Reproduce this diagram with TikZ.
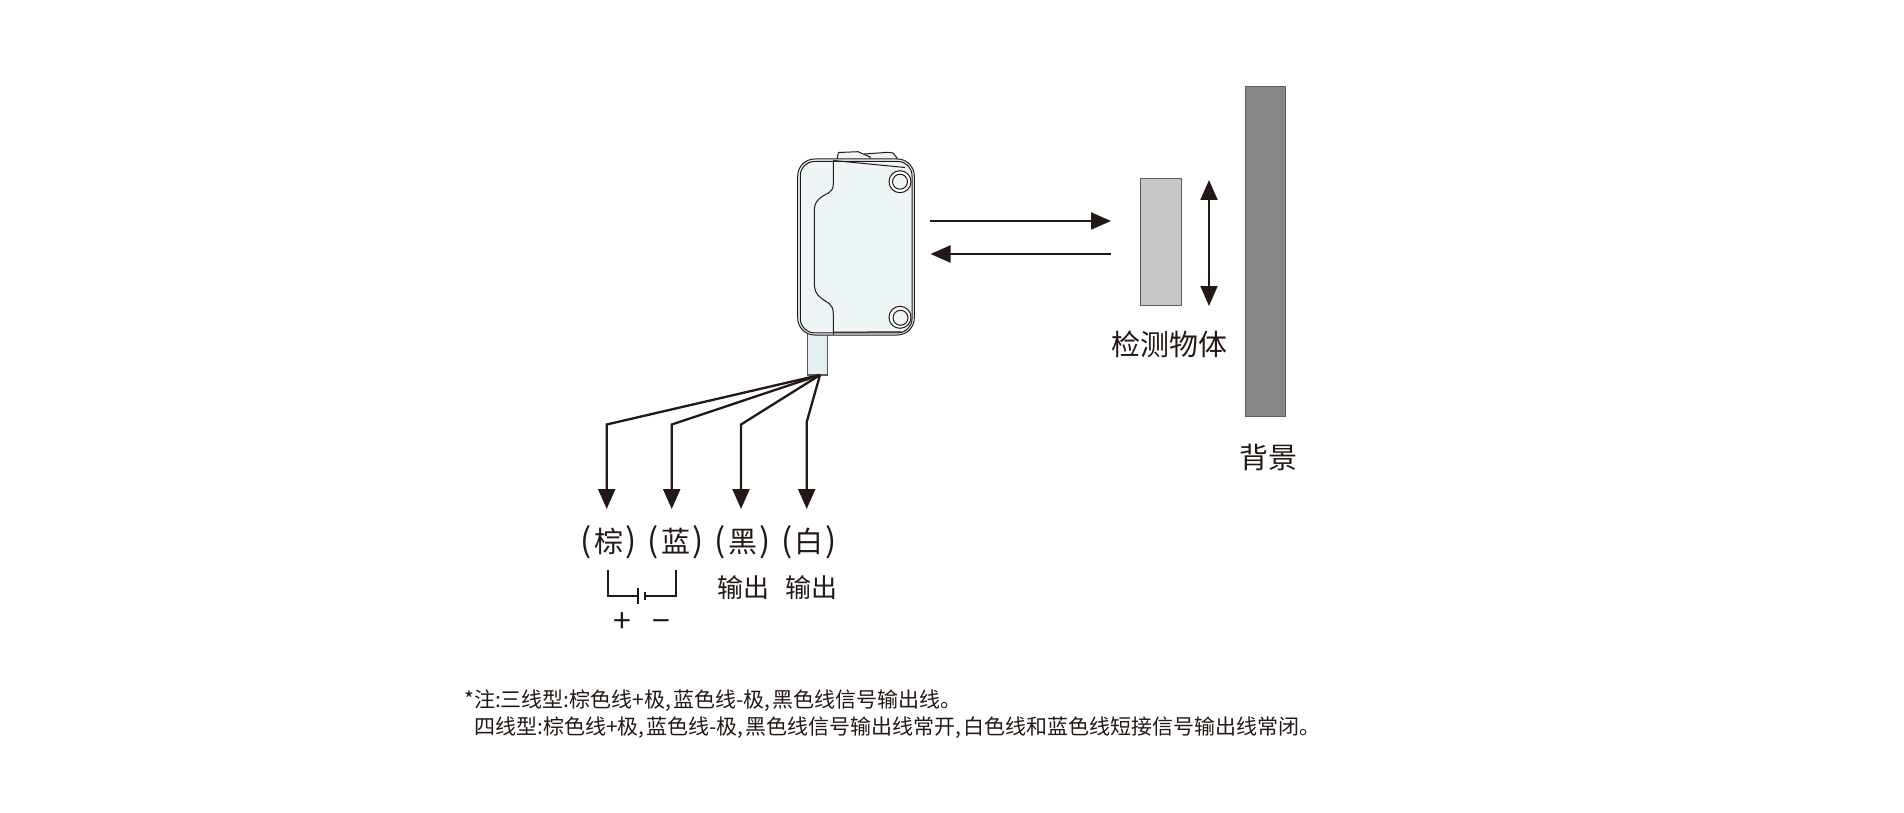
\documentclass[tikz,border=0pt]{standalone}
\usepackage{fontspec}
\setmainfont{Noto Sans CJK SC}
\usetikzlibrary{arrows.meta}
\definecolor{ink}{HTML}{231815}
\definecolor{bodyfill}{HTML}{EEF5F6}
\definecolor{cablefill}{HTML}{E4EFF1}
\definecolor{objfill}{HTML}{C6C7C7}
\definecolor{bgfill}{HTML}{878787}
\definecolor{edgegray}{HTML}{5E5E5E}
\newcommand{\bigp}[1]{{\fontsize{33}{34}\selectfont #1}}
\tikzset{
  wire/.style={draw=ink,line width=2.3pt,line join=miter,-{Triangle[length=20pt,width=17pt]}},
  beam/.style={draw=ink,line width=2.1pt,-{Triangle[length=20pt,width=17pt]}},
  updown/.style={draw=ink,line width=2.1pt,{Triangle[length=20pt,width=17pt]}-{Triangle[length=20pt,width=17pt]}},
  bracket/.style={draw=ink,line width=1.9pt},
  outline/.style={draw=ink,line width=1pt},
  plate/.style={rectangle,draw=edgegray,line width=1.2pt,inner sep=0pt},
  lab/.style={text=ink,inner sep=0pt,font=\fontsize{29}{34}\selectfont},
  col/.style={text=ink,inner sep=0pt,font=\fontsize{29}{34}\selectfont},
  outp/.style={text=ink,inner sep=0pt,font=\fontsize{26}{30}\selectfont},
  sign/.style={text=ink,inner sep=0pt,font=\fontsize{32}{34}\selectfont},
  note/.style={text=ink,inner sep=0pt,anchor=west,font=\fontsize{21}{24}\selectfont},
}
\begin{document}
\begin{tikzpicture}[x=1pt,y=-1pt]
\useasboundingbox (0,0) rectangle (1904,813);
% top tabs
\draw[outline,fill=bodyfill] (864.5,163) -- (864.5,154) -- (888,152.3) -- (893,153) -- (897,158) -- (893.5,163) -- cycle;
\draw[outline,fill=bodyfill] (836.5,161) -- (838.5,152.5) -- (858,151.7) -- (870,157) -- (870,162) -- cycle;
% cable
\draw[draw=edgegray,line width=1.1pt,fill=cablefill] (807.7,330) rectangle (827.7,375);
% body
\draw[outline,fill=bodyfill,rounded corners=17pt] (797.7,159) rectangle (914.3,335);
\draw[outline,rounded corners=14pt] (800.3,161.5) rectangle (912,332.8);
\draw[outline] (833.3,160.5) -- (833.3,184)
  .. controls (833.3,194) and (825,193) .. (819,199)
  .. controls (815,203) and (814.3,206) .. (814.3,212)
  -- (814.3,283)
  .. controls (814.3,290) and (816,294) .. (821,298)
  .. controls (827,303) and (833.3,303) .. (833.3,314)
  -- (833.3,334.5);
\draw[outline] (833.3,160.5) -- (905,167.5);
\draw[outline] (833.3,332.2) -- (901,331.8);
% screws
\draw[outline,fill=white] (900,181.7) circle (11pt);
\draw[outline,fill=bodyfill] (900,181.7) circle (7.5pt);
\draw[outline,fill=white] (900,317.3) circle (11pt);
\draw[outline,fill=bodyfill] (900.5,317.8) circle (7.5pt);
% wires
\coordinate (hub) at (820,375);
\coordinate (bend1) at (606.7,424.5);
\coordinate (bend2) at (671.7,424.5);
\coordinate (bend3) at (741,424.5);
\coordinate (bend4) at (806.7,422);
\coordinate (tip1) at (606.7,509);
\coordinate (tip2) at (671.7,509);
\coordinate (tip3) at (741,509);
\coordinate (tip4) at (806.7,509);
\draw[wire] (hub) -- (bend1) -- (tip1);
\draw[wire] (hub) -- (bend2) -- (tip2);
\draw[wire] (hub) -- (bend3) -- (tip3);
\draw[wire] (hub) -- (bend4) -- (tip4);
% colour labels
\node[col] (brown) at (608.5,542) {\bigp{(}\hspace{2pt}棕\hspace{2pt}\bigp{)}};
\node[col] (blue) at (675.5,542) {\bigp{(}\hspace{2pt}蓝\hspace{2pt}\bigp{)}};
\node[col] (black) at (742.5,542) {\bigp{(}\hspace{2pt}黑\hspace{2pt}\bigp{)}};
\node[col] (white) at (809,542) {\bigp{(}\hspace{2pt}白\hspace{2pt}\bigp{)}};
\node[outp] (out1) at (743,588) {输出};
\node[outp] (out2) at (811,588) {输出};
% battery bracket
\coordinate (br1) at (607.7,570);
\coordinate (br2) at (607.7,596);
\coordinate (br3) at (638.3,596);
\coordinate (br4) at (645,596);
\coordinate (br5) at (675.7,596);
\coordinate (br6) at (675.7,570);
\draw[bracket] (br1) -- (br2) -- (br3);
\draw[bracket] (br4) -- (br5) -- (br6);
\draw[bracket] (638.3,587.5) -- (638.3,603.5);
\draw[bracket] (645,592.3) -- (645,600);
\node[sign] (plus) at (622.3,623) {+};
\node[sign] (minus) at (661,626) {−};
% beams
\coordinate (b1a) at (930,221);
\coordinate (b1b) at (1111,221);
\coordinate (b2a) at (1111,254);
\coordinate (b2b) at (930.5,254);
\draw[beam] (b1a) -- (b1b);
\draw[beam] (b2a) -- (b2b);
% object and background
\node[plate,fill=objfill,minimum width=41pt,minimum height=127.3pt] (obj) at (1160.8,242) {};
\node[plate,fill=bgfill,minimum width=39.3pt,minimum height=330.3pt] (bg) at (1265.5,251.5) {};
\coordinate (ud1) at (1209,180);
\coordinate (ud2) at (1209,306);
\draw[updown] (ud1) -- (ud2);
\node[lab] (objlab) at (1169,344) {检测物体};
\node[lab] (bglab) at (1268.5,457) {背景};
% notes
\node[note] (n1) at (464,701) {*注:三线型:棕色线+极,\hspace{0.1em}蓝色线-极,\hspace{0.1em}黑色线信号输出线。};
\node[note] (n2) at (474,728) {四线型:棕色线+极,\hspace{0.1em}蓝色线-极,\hspace{0.1em}黑色线信号输出线常开,\hspace{0.1em}白色线和蓝色线短接信号输出线常闭。};
\end{tikzpicture}
\end{document}
